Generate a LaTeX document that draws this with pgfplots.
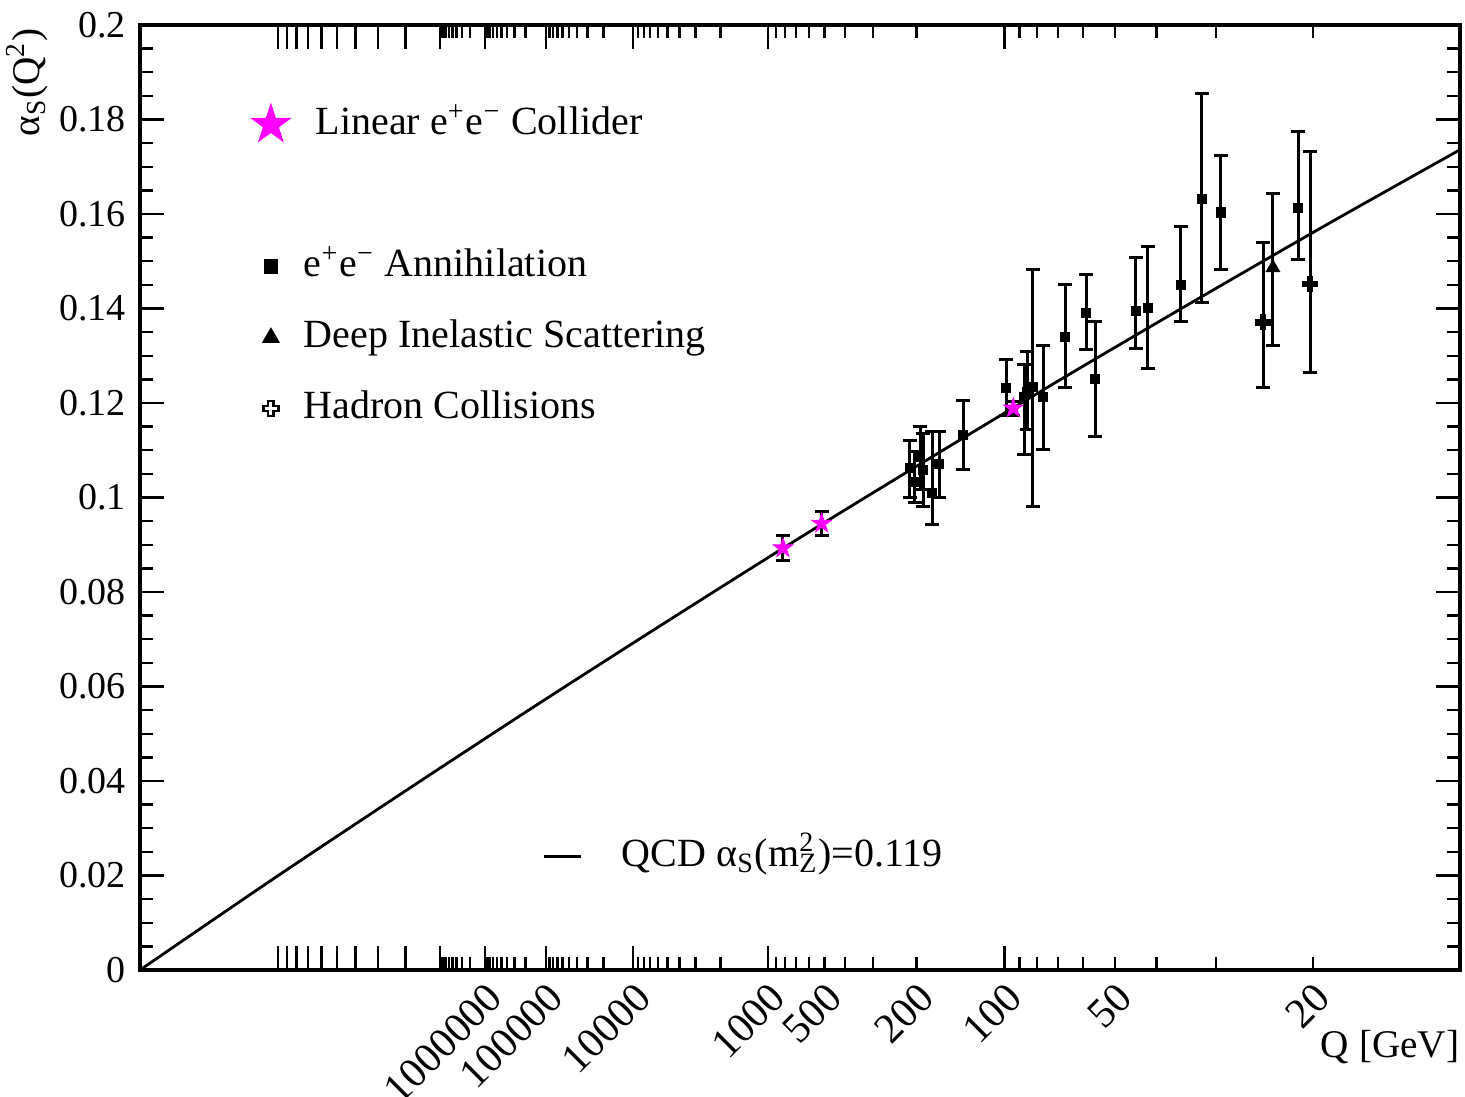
\documentclass[border=0pt]{standalone}
\usepackage{fontspec}
\setmainfont{Liberation Serif}
\usepackage{pgfplots}
\pgfplotsset{compat=1.18}
\definecolor{lcmag}{RGB}{255,0,255}

% filled five-pointed star
\pgfdeclareplotmark{fstar}{%
  \pgfpathmoveto{\pgfqpointpolar{90}{\pgfplotmarksize}}%
  \pgfpathlineto{\pgfqpointpolar{126}{0.382\pgfplotmarksize}}%
  \pgfpathlineto{\pgfqpointpolar{162}{\pgfplotmarksize}}%
  \pgfpathlineto{\pgfqpointpolar{198}{0.382\pgfplotmarksize}}%
  \pgfpathlineto{\pgfqpointpolar{234}{\pgfplotmarksize}}%
  \pgfpathlineto{\pgfqpointpolar{270}{0.382\pgfplotmarksize}}%
  \pgfpathlineto{\pgfqpointpolar{306}{\pgfplotmarksize}}%
  \pgfpathlineto{\pgfqpointpolar{342}{0.382\pgfplotmarksize}}%
  \pgfpathlineto{\pgfqpointpolar{18}{\pgfplotmarksize}}%
  \pgfpathlineto{\pgfqpointpolar{54}{0.382\pgfplotmarksize}}%
  \pgfpathclose
  \pgfusepathqfill
}
% fat plus (hadron collisions)
\pgfdeclareplotmark{hplus}{%
  \pgfpathmoveto{\pgfqpoint{0.35\pgfplotmarksize}{\pgfplotmarksize}}%
  \pgfpathlineto{\pgfqpoint{0.35\pgfplotmarksize}{0.35\pgfplotmarksize}}%
  \pgfpathlineto{\pgfqpoint{\pgfplotmarksize}{0.35\pgfplotmarksize}}%
  \pgfpathlineto{\pgfqpoint{\pgfplotmarksize}{-0.35\pgfplotmarksize}}%
  \pgfpathlineto{\pgfqpoint{0.35\pgfplotmarksize}{-0.35\pgfplotmarksize}}%
  \pgfpathlineto{\pgfqpoint{0.35\pgfplotmarksize}{-\pgfplotmarksize}}%
  \pgfpathlineto{\pgfqpoint{-0.35\pgfplotmarksize}{-\pgfplotmarksize}}%
  \pgfpathlineto{\pgfqpoint{-0.35\pgfplotmarksize}{-0.35\pgfplotmarksize}}%
  \pgfpathlineto{\pgfqpoint{-\pgfplotmarksize}{-0.35\pgfplotmarksize}}%
  \pgfpathlineto{\pgfqpoint{-\pgfplotmarksize}{0.35\pgfplotmarksize}}%
  \pgfpathlineto{\pgfqpoint{-0.35\pgfplotmarksize}{0.35\pgfplotmarksize}}%
  \pgfpathlineto{\pgfqpoint{-0.35\pgfplotmarksize}{\pgfplotmarksize}}%
  \pgfpathclose
  \pgfusepathqfillstroke
}

% x is 1/ln(Q/Lambda) rescaled to 0..1; y is alpha_s
\pgfplotstableread{
t      a      ep     em
0.5833 0.1062 0.0059 0.0061
0.5871 0.1033 0.0064 0.0044
0.5909 0.1086 0.0064 0.0070
0.5932 0.1058 0.0078 0.0078
0.6000 0.1010 0.0129 0.0068
0.6053 0.1071 0.0068 0.0070
0.6235 0.1132 0.0074 0.0072
0.6561 0.1232 0.0059 0.0059
0.6697 0.1213 0.0068 0.0123
0.6720 0.1223 0.0085 0.0080
0.6765 0.1234 0.0248 0.0254
0.6841 0.1213 0.0108 0.0112
0.7008 0.1340 0.0110 0.0108
0.7167 0.1391 0.0080 0.0078
0.7235 0.1251 0.0121 0.0121
0.7545 0.1395 0.0112 0.0080
0.7636 0.1401 0.0131 0.0129
0.7886 0.1450 0.0123 0.0078
0.8045 0.1632 0.0222 0.0220
0.8189 0.1603 0.0120 0.0121
0.8773 0.1613 0.0161 0.0110
}\eeann
\pgfplotstableread{
t      a      ep     em
0.8583 0.1486 0.0157 0.0165
}\dis
\pgfplotstableread{
t      a      ep     em
0.8508 0.1371 0.0169 0.0138
0.8864 0.1452 0.0281 0.0188
}\hadron
\pgfplotstableread{
t      a      ep     em
0.4871 0.0893 0.0026 0.0026
0.5164 0.0945 0.0025 0.0025
0.6616 0.1189 0.0015 0.0015
}\lc

\begin{document}
\begin{tikzpicture}
\pgfplotsset{
  ebars/.style={forget plot, only marks,
    error bars/y dir=both, error bars/y explicit,
    error bars/error mark=-,
    error bars/error bar style={line width=0.75pt, black},
    error bars/error mark options={rotate=90, black, mark size=1.75pt, line width=0.75pt}},
}
\begin{axis}[
  width=330pt, height=236.25pt, scale only axis,
  xmin=0, xmax=1, ymin=0, ymax=0.2,
  clip=false,
  axis line style={line width=0.9pt},
  tick align=inside, tick pos=both,
  every tick/.style={black, line width=0.6pt},
  major tick length=6pt, minor tick length=3.2pt,
  scaled x ticks=false, scaled y ticks=false,
  xtick={0.1045,0.1112,0.1187,0.1274,0.1375,0.1493,0.1633,0.1802,0.2010,
         0.2273,0.2614,0.3076,0.3737,0.4758,0.6549},
  xticklabels={},
  minor xtick={0.2501,0.2438,0.2397,0.2366,0.2341,0.2320,0.2302,0.2286,
               0.2921,0.2837,0.2780,0.2738,0.2704,0.2676,0.2653,0.2632,
               0.3510,0.3389,0.3309,0.3249,0.3202,0.3163,0.3130,0.3101,
               0.4397,0.4209,0.4086,0.3995,0.3924,0.3865,0.3816,0.3774,
               0.5883,0.5552,0.5339,0.5185,0.5066,0.4969,0.4888,0.4819,
               0.8886,0.8153,0.7702,0.7386,0.7145,0.6954,0.6797,0.6664},
  extra x ticks={0.2614,0.3076,0.3737,0.4758,0.5185,0.5883,0.6549,0.7386,0.8886},
  extra x tick labels={1000000,100000,10000,1000,500,200,100,50,20},
  extra x tick style={major tick length=0pt,
    tick label style={font=\fontsize{10.5}{12}\selectfont,
      xshift=2.6pt, yshift=-5.2pt, rotate=45, anchor=east, inner sep=0pt}},
  ytick={0,0.02,0.04,0.06,0.08,0.1,0.12,0.14,0.16,0.18,0.2},
  yticklabels={0,0.02,0.04,0.06,0.08,0.1,0.12,0.14,0.16,0.18,0.2},
  minor y tick num=3,
  tick label style={font=\fontsize{9.5}{11}\selectfont},
  legend cell align=left,
  legend style={draw=none, fill=none, at={(0.0727,0.9187)}, anchor=north west,
    inner sep=0pt, row sep=6.75pt, column sep=2pt,
    nodes={inner sep=1pt, text height=7pt, text depth=2pt},
    font=\fontsize{10}{12}\selectfont},
]
% QCD curve
\addplot[black, line width=0.7pt, smooth, forget plot] coordinates {
  (0,0) (0.1,0.0191) (0.2,0.0377) (0.3,0.0560) (0.4,0.0739) (0.5,0.0915)
  (0.6,0.1086) (0.7,0.1254) (0.8,0.1418) (0.9,0.1579) (1.0,0.1736)
};
\addplot[ebars, mark=square*, mark size=1.1pt, black]
  table[x=t, y=a, y error plus=ep, y error minus=em] {\eeann};
\addplot[ebars, mark=triangle*, mark size=1.8pt, black]
  table[x=t, y=a, y error plus=ep, y error minus=em] {\dis};
\addplot[ebars, mark=hplus, mark size=1.8pt, black, mark options={fill=black}]
  table[x=t, y=a, y error plus=ep, y error minus=em] {\hadron};
\addplot[ebars, mark=fstar, mark size=2.9pt, mark options={fill=lcmag, draw=lcmag}]
  table[x=t, y=a, y error plus=ep, y error minus=em] {\lc};

\addlegendimage{only marks, mark=fstar, mark size=5.5pt, mark options={fill=lcmag, draw=lcmag}}
\addlegendentry{\hspace{3pt}Linear e\textsuperscript{+}e\textsuperscript{−} Collider}
\addlegendimage{empty legend}
\addlegendentry{}
\addlegendimage{only marks, mark=square*, mark size=1.6pt, black}
\addlegendentry{e\textsuperscript{+}e\textsuperscript{−} Annihilation}
\addlegendimage{only marks, mark=triangle*, mark size=2.2pt, black}
\addlegendentry{Deep Inelastic Scattering}
\addlegendimage{only marks, mark=hplus, mark size=1.9pt, black, mark options={fill=white, line width=0.6pt}}
\addlegendentry{Hadron Collisions}

\node[rotate=90, anchor=base west, inner sep=0pt, font=\fontsize{9.8}{11}\selectfont]
  at (rel axis cs:-0.0765,0.8815) {α\textsubscript{S}(Q\textsuperscript{2})};
\node[anchor=base east, inner sep=0pt, font=\fontsize{9.8}{11}\selectfont]
  at (rel axis cs:1,-0.0931) {Q [GeV]};
\coordinate (bbSW) at (rel axis cs:-0.10606,-0.13439);
\coordinate (bbNE) at (rel axis cs:1.00379,1.02646);
\end{axis}
% second axis only for the QCD line legend
\begin{axis}[
  width=330pt, height=236.25pt, scale only axis, hide axis,
  xmin=0, xmax=1, ymin=0, ymax=0.2,
  legend style={draw=none, fill=none, at={(0.3045,0.1206)}, anchor=west,
    inner sep=0pt, column sep=8.8pt,
    nodes={inner sep=1pt, text height=7pt, text depth=2pt},
    font=\fontsize{10}{12}\selectfont},
  legend image code/.code={\draw[#1] (0pt,0pt) -- (9.25pt,0pt);},
]
\addlegendimage{black, line width=0.75pt}
\addlegendentry{QCD α\textsubscript{S}(m\rlap{\textsuperscript{2}}\textsubscript{Z})=0.119}
\end{axis}
\pgfresetboundingbox
\useasboundingbox (bbSW) rectangle (bbNE);
\end{tikzpicture}
\end{document}
